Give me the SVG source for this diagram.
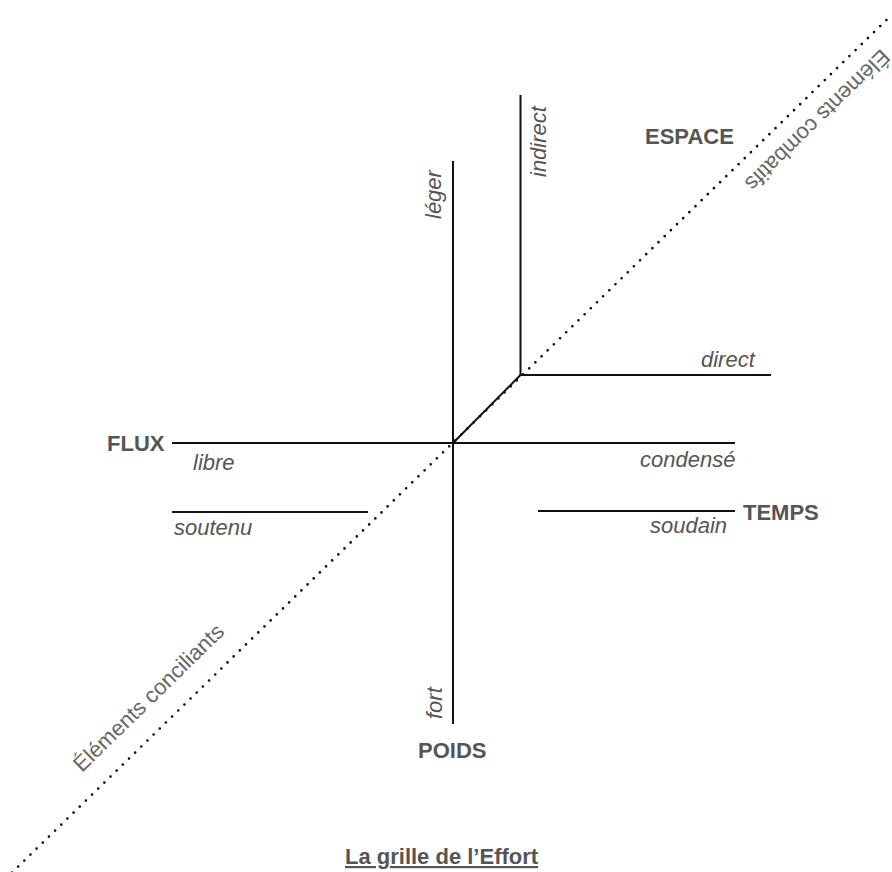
<svg xmlns="http://www.w3.org/2000/svg" width="892" height="872" viewBox="0 0 892 872">
<style>
.ln{stroke:#111;stroke-width:2;fill:none;stroke-linecap:butt}
.dot{stroke:#111;stroke-width:2.7;fill:none;stroke-linecap:round;stroke-dasharray:0 8.6}
.b{font-family:"Liberation Sans",Arial,sans-serif;font-weight:bold;font-size:22px;fill:#555}
.i{font-family:"Liberation Sans",Arial,sans-serif;font-style:italic;font-size:22px;fill:#555}
.r{font-family:"Liberation Sans",Arial,sans-serif;font-size:22px;fill:#666}
</style>
<rect width="892" height="872" fill="#fff"/>
<g id="connectors">
<line class="dot" x1="12" y1="872.6" x2="892" y2="14.6"/>
<line class="ln" x1="453" y1="161" x2="453" y2="724"/>
<line class="ln" x1="172" y1="443" x2="735" y2="443"/>
<line class="ln" x1="453" y1="443" x2="520.5" y2="375"/>
<line class="ln" x1="520.5" y1="95" x2="520.5" y2="376"/>
<line class="ln" x1="519.5" y1="375" x2="771" y2="375"/>
<line class="ln" x1="172" y1="512" x2="368" y2="512"/>
<line class="ln" x1="538" y1="511" x2="735" y2="511"/>
</g>
<g id="espace"><text class="b" x="645" y="144">ESPACE</text></g>
<g id="flux"><text class="b" x="107" y="451">FLUX</text></g>
<g id="temps"><text class="b" x="743" y="520">TEMPS</text></g>
<g id="poids"><text class="b" x="418" y="758">POIDS</text></g>
<g id="libre"><text class="i" x="193" y="470">libre</text></g>
<g id="soutenu"><text class="i" x="174" y="535">soutenu</text></g>
<g id="condense"><text class="i" x="640" y="467">condensé</text></g>
<g id="soudain"><text class="i" x="650" y="533">soudain</text></g>
<g id="direct"><text class="i" x="701" y="367">direct</text></g>
<g id="leger"><text class="i" transform="translate(441 219) rotate(-90)">léger</text></g>
<g id="indirect"><text class="i" transform="translate(546 177) rotate(-90)">indirect</text></g>
<g id="fort"><text class="i" transform="translate(442 719) rotate(-90)">fort</text></g>
<g id="combatifs"><text class="r" transform="translate(881 48) rotate(135.73)">Éléments combatifs</text></g>
<g id="conciliants"><text class="r" transform="translate(82 773) rotate(-44.27)">Éléments conciliants</text></g>
<g id="title"><text class="b" x="345" y="864" text-decoration="underline">La grille de l’Effort</text></g>
</svg>
